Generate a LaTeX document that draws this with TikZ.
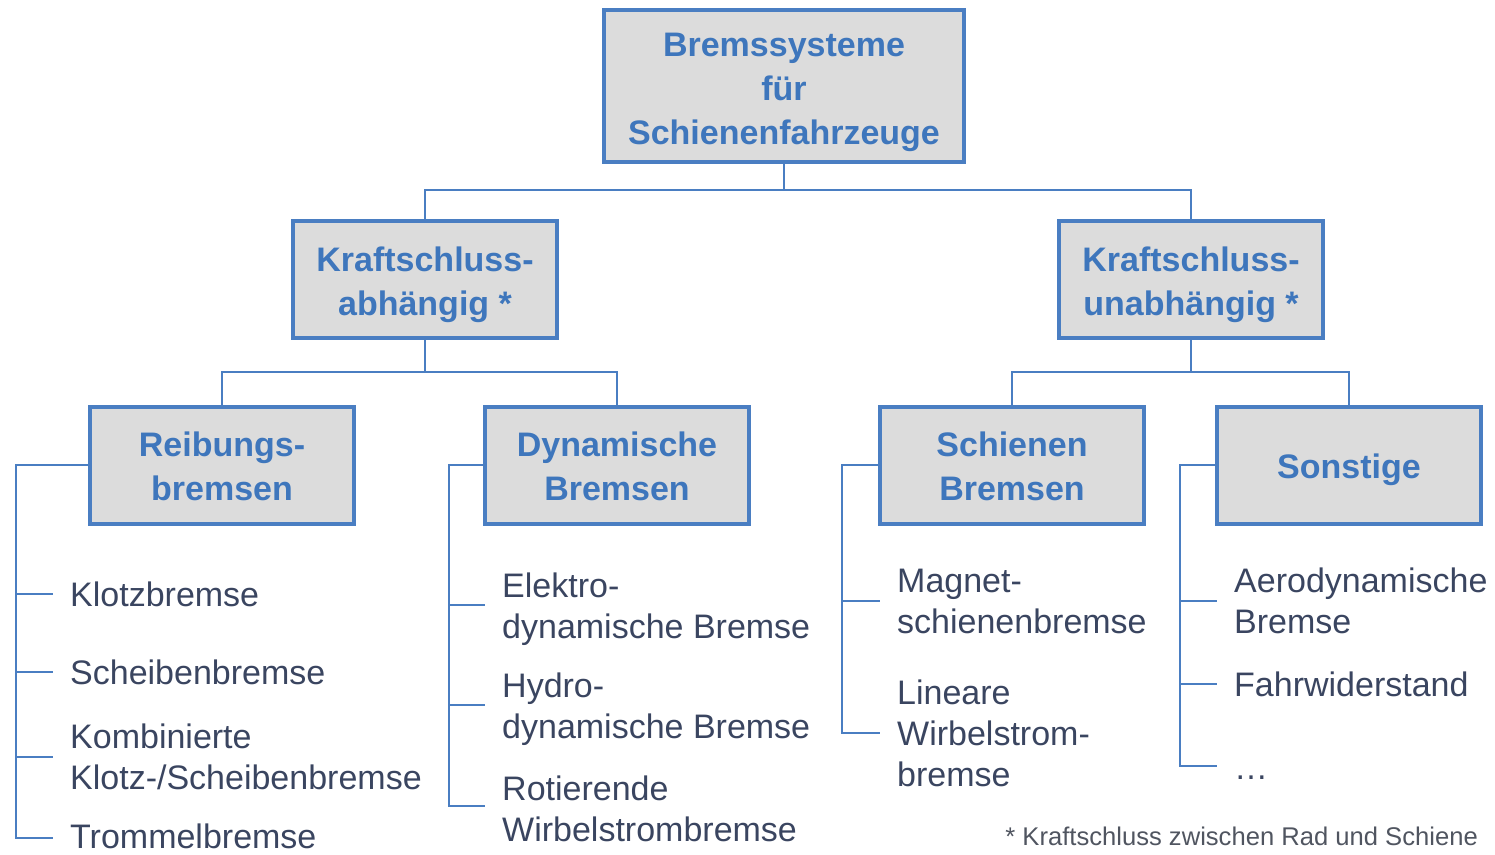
\documentclass[tikz,border=0pt]{standalone}
\usepackage{fontspec}
\setmainfont{Liberation Sans}
\definecolor{boxblue}{HTML}{4A7EC2}
\definecolor{txtblue}{HTML}{3E76BC}
\definecolor{boxfill}{HTML}{DCDCDC}
\definecolor{listtxt}{HTML}{3A4560}
\definecolor{foottxt}{HTML}{505560}
\begin{document}
\begin{tikzpicture}[x=1pt,y=-1pt,
  catbox/.style={draw=boxblue,line width=4pt,fill=boxfill,inner sep=0pt},
  cattext/.style={align=center,text=txtblue,inner sep=0pt,
    font=\fontsize{34}{44}\selectfont\bfseries},
  topbox/.style={catbox,minimum width=360pt,minimum height=152pt},
  midbox/.style={catbox,minimum width=264pt,minimum height=117pt},
  item/.style={anchor=west,align=left,inner sep=0pt,text=listtxt,
    font=\fontsize{34}{41}\selectfont},
  conn/.style={draw=boxblue,line width=2.4pt},
  foot/.style={anchor=east,inner sep=0pt,text=foottxt,font=\fontsize{25.6}{30}\selectfont}]
\useasboundingbox (0,0) rectangle (1495,854);

% boxes
\node[topbox,label={[cattext,yshift=-6pt]center:Bremssysteme\\für\\Schienenfahrzeuge}] (top) at (784,86) {};
\node[midbox,label={[cattext,yshift=-6pt]center:Kraftschluss-\\abhängig *}] (abh) at (425,279) {};
\node[midbox,label={[cattext,yshift=-6pt]center:Kraftschluss-\\unabhängig *}] (unabh) at (1191,279) {};
\node[midbox,label={[cattext,yshift=-1pt]center:Reibungs-\\bremsen}] (reib) at (222,465) {};
\node[midbox,label={[cattext,yshift=-1pt]center:Dynamische\\Bremsen}] (dyn) at (617,465) {};
\node[midbox,label={[cattext,yshift=-1pt]center:Schienen\\Bremsen}] (schi) at (1012,465) {};
\node[midbox,label={[cattext,yshift=-5pt]center:Sonstige}] (sons) at (1349,465) {};

% tree connectors
\coordinate (j1) at (784,190);
\coordinate (j2) at (425,372);
\coordinate (j3) at (1191,372);
\draw[conn] (top.south) -- (j1);
\draw[conn] (abh.north) |- (j1) -| (unabh.north);
\draw[conn] (abh.south) -- (j2);
\draw[conn] (reib.north) |- (j2) -| (dyn.north);
\draw[conn] (unabh.south) -- (j3);
\draw[conn] (schi.north) |- (j3) -| (sons.north);

% list items
\node[item] (r1) at (70,594) {Klotzbremse};
\node[item] (r2) at (70,672) {Scheibenbremse};
\node[item] (r3) at (70,757) {Kombinierte\\Klotz-/Scheibenbremse};
\node[item] (r4) at (70,836) {Trommelbremse};

\node[item] (d1) at (502,609) {Elektro-\\dynamische Bremse};
\node[item] (d2) at (502,709) {Hydro-\\dynamische Bremse};
\node[item] (d3) at (502,809) {Rotierende\\Wirbelstrombremse};

\node[item] (s1) at (897,601) {Magnet-\\schienenbremse};
\node[item] (s2) at (897,733) {Lineare\\Wirbelstrom-\\bremse};

\node[item] (o1) at (1234,601) {Aerodynamische\\Bremse};
\node[item] (o2) at (1234,684) {Fahrwiderstand};
\node[item] (o3) at (1234,778) {\ldots};

% bracket connectors
\coordinate (rb) at (16,838);
\coordinate (db) at (449,806);
\coordinate (sb) at (842,733);
\coordinate (ob) at (1180,766);
\draw[conn] (reib.west) -| (rb) -- ([xshift=-17pt]rb -| r4.west);
\foreach \n in {r1,r2,r3} \draw[conn] (rb |- \n.west) -- ([xshift=-17pt]\n.west);
\draw[conn] (dyn.west) -| (db) -- ([xshift=-17pt]db -| d3.west);
\draw[conn] (db |- 0,605) -- ([xshift=-17pt]d1.west |- 0,605);
\draw[conn] (db |- 0,705) -- ([xshift=-17pt]d2.west |- 0,705);
\draw[conn] (schi.west) -| (sb) -- ([xshift=-17pt]sb -| s2.west);
\draw[conn] (sb |- s1.west) -- ([xshift=-17pt]s1.west);
\draw[conn] (sons.west) -| (ob) -- ([xshift=-17pt]ob -| o3.west);
\foreach \n in {o1,o2} \draw[conn] (ob |- \n.west) -- ([xshift=-17pt]\n.west);

% footnote
\node[foot] (fn) at (1478,836) {* Kraftschluss zwischen Rad und Schiene};
\end{tikzpicture}
\end{document}
